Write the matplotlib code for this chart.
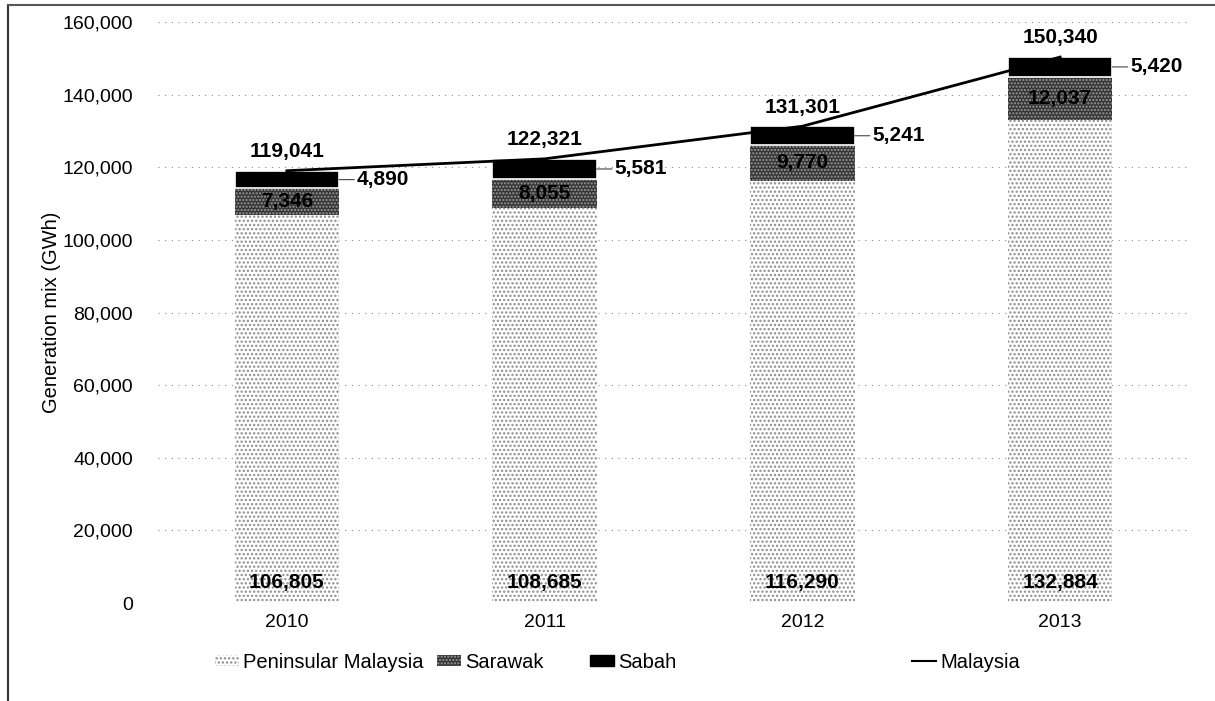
import matplotlib
matplotlib.use("Agg")
import matplotlib.pyplot as plt
from matplotlib.patches import Patch
from matplotlib.lines import Line2D
import numpy as np

plt.rcParams['font.family'] = ['Liberation Sans', 'DejaVu Sans']
plt.rcParams['hatch.linewidth'] = 1.1

years = ['2010', '2011', '2012', '2013']
peninsular = [106805, 108685, 116290, 132884]
sarawak = [7346, 8055, 9770, 12037]
sabah = [4890, 5581, 5241, 5420]
malaysia = [119041, 122321, 131301, 150340]
y_ticks = [0, 20000, 40000, 60000, 80000, 100000, 120000, 140000, 160000]

fig = plt.figure(figsize=(12.15, 7.01), dpi=100)
ax = fig.add_axes([0.130, 0.1398, 0.8486, 0.8288])

x = np.arange(len(years))
w = 0.405
pen = np.array(peninsular)
sar = np.array(sarawak)
sab = np.array(sabah)

pen_style = dict(facecolor='white', edgecolor='#8c8c8c', hatch='....', linewidth=0)
sar_style = dict(facecolor='#333333', edgecolor='#9a9a9a', hatch='.....', linewidth=0)

ax.bar(x, pen, w, zorder=2, **pen_style)
ax.bar(x, sar, w, bottom=pen, zorder=2, **sar_style)
ax.bar(x, sab, w, bottom=pen + sar, color='black', edgecolor='white', linewidth=1.2, zorder=2)
ax.plot(x, malaysia, color='black', linewidth=2, zorder=4)

ax.set_xlim(-0.5, 3.5)
ax.set_ylim(0, 160000)
ax.set_yticks(y_ticks)
ax.set_yticklabels([f'{v:,}' for v in y_ticks])
ax.set_xticks(x)
ax.set_xticklabels(years)
ax.tick_params(axis='both', length=0, labelsize=14)
ax.tick_params(axis='y', pad=18)
ax.tick_params(axis='x', pad=8)
for s in ax.spines.values():
    s.set_visible(False)
ax.yaxis.grid(True, color='#888888', linestyle=(0, (1, 5)), linewidth=0.8, zorder=0)
ax.set_axisbelow(True)
ax.set_ylabel('Generation mix (GWh)', fontsize=14.5, labelpad=1)

lbl = dict(fontsize=15, fontweight='bold', color='black')
for i in range(len(years)):
    ax.annotate(f'{malaysia[i]:,}', (x[i], malaysia[i]), xytext=(0, 7),
                textcoords='offset points', ha='center', va='bottom', zorder=5, **lbl)
    ax.text(x[i], pen[i] + sar[i] / 2, f'{sarawak[i]:,}', ha='center', va='center', zorder=5, **lbl)
    ax.annotate(f'{peninsular[i]:,}', (x[i], 0), xytext=(0, 8),
                textcoords='offset points', ha='center', va='bottom', zorder=5, **lbl)
    ax.annotate(f'{sabah[i]:,}', (x[i] + w / 2, pen[i] + sar[i] + sab[i] / 2),
                xytext=(13, 0), textcoords='offset points', ha='left', va='center', zorder=5,
                arrowprops=dict(arrowstyle='-', color='#444444', lw=0.8, shrinkA=0, shrinkB=0),
                **lbl)

handles = [
    Patch(label='Peninsular Malaysia', **pen_style),
    Patch(label='Sarawak', **sar_style),
    Patch(facecolor='black', edgecolor='black', label='Sabah'),
    Line2D([0], [0], color='black', linewidth=1.5, label='Malaysia'),
]
anchors = [215, 437, 590, 912]
for h, ax_px in zip(handles, anchors):
    fig.legend(handles=[h], loc='center left', bbox_to_anchor=(ax_px / 1215, 1 - 662 / 701),
               frameon=False, fontsize=14.5, handlelength=1.2, handleheight=0.5,
               handletextpad=0.2, borderpad=0, borderaxespad=0)

# outer frame on the left and top edges
fig.add_artist(Line2D([8 / 1215, 8 / 1215], [0, 1 - 5 / 701], color='#333333', lw=1.5))
fig.add_artist(Line2D([8 / 1215, 1], [1 - 5 / 701, 1 - 5 / 701], color='#555555', lw=1.5))

fig.savefig('out.png', dpi=100)
